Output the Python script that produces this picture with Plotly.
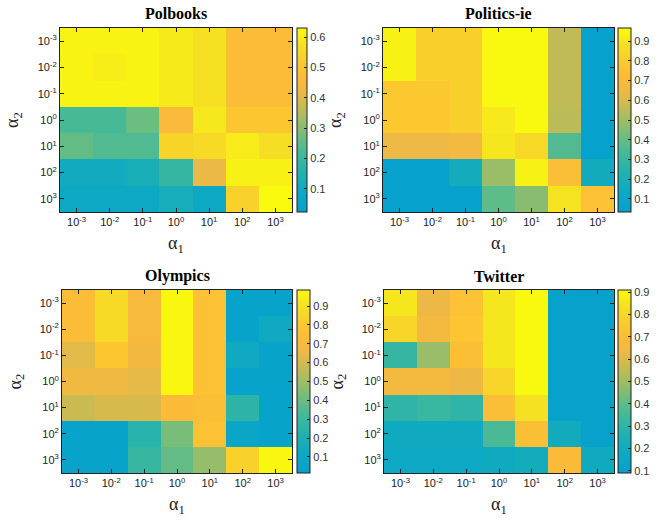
import plotly.graph_objects as go

# exponents of alpha_1 (columns) and alpha_2 (rows)
alpha1_exp = [-3, -2, -1, 0, 1, 2, 3]
alpha2_exp = [-3, -2, -1, 0, 1, 2, 3]
tick_labels = ["10<sup>-3</sup>", "10<sup>-2</sup>", "10<sup>-1</sup>", "10<sup>0</sup>",
               "10<sup>1</sup>", "10<sup>2</sup>", "10<sup>3</sup>"]

titles = ["Polbooks", "Politics-ie", "Olympics", "Twitter"]

# rows: alpha2 = 1e-3 ... 1e3 ; cols: alpha1 = 1e-3 ... 1e3
polbooks = [
    [0.615, 0.615, 0.615, 0.595, 0.575, 0.47, 0.47],
    [0.615, 0.605, 0.615, 0.595, 0.575, 0.47, 0.47],
    [0.615, 0.615, 0.615, 0.595, 0.575, 0.47, 0.47],
    [0.22, 0.22, 0.27, 0.455, 0.59, 0.51, 0.51],
    [0.26, 0.236, 0.236, 0.545, 0.56, 0.60, 0.57],
    [0.10, 0.10, 0.13, 0.19, 0.42, 0.61, 0.61],
    [0.085, 0.085, 0.085, 0.12, 0.085, 0.54, 0.63],
]
politics_ie = [
    [0.94, 0.82, 0.82, 0.96, 0.96, 0.56, 0.04],
    [0.94, 0.82, 0.82, 0.96, 0.96, 0.56, 0.04],
    [0.79, 0.79, 0.82, 0.96, 0.96, 0.56, 0.04],
    [0.79, 0.79, 0.82, 0.91, 0.96, 0.55, 0.04],
    [0.65, 0.65, 0.67, 0.90, 0.85, 0.36, 0.04],
    [0.04, 0.04, 0.17, 0.49, 0.94, 0.73, 0.16],
    [0.04, 0.04, 0.04, 0.38, 0.46, 0.89, 0.75],
]
olympics = [
    [0.73, 0.87, 0.70, 0.975, 0.76, 0.05, 0.05],
    [0.73, 0.87, 0.70, 0.975, 0.76, 0.05, 0.13],
    [0.63, 0.79, 0.675, 0.975, 0.76, 0.13, 0.05],
    [0.665, 0.665, 0.64, 0.975, 0.76, 0.05, 0.05],
    [0.58, 0.61, 0.61, 0.72, 0.74, 0.26, 0.05],
    [0.05, 0.05, 0.24, 0.43, 0.76, 0.08, 0.05],
    [0.05, 0.05, 0.29, 0.39, 0.48, 0.84, 0.975],
]
twitter = [
    [0.85, 0.63, 0.72, 0.85, 0.905, 0.10, 0.10],
    [0.795, 0.655, 0.74, 0.85, 0.905, 0.10, 0.10],
    [0.32, 0.49, 0.705, 0.85, 0.905, 0.10, 0.10],
    [0.655, 0.655, 0.63, 0.795, 0.905, 0.10, 0.10],
    [0.30, 0.325, 0.30, 0.70, 0.835, 0.10, 0.10],
    [0.19, 0.19, 0.19, 0.36, 0.705, 0.20, 0.10],
    [0.17, 0.17, 0.17, 0.19, 0.21, 0.68, 0.19],
]
datasets = [polbooks, politics_ie, olympics, twitter]
zranges = [(0.024, 0.63), (0.034, 0.966), (0.015, 0.985), (0.091, 0.909)]
cbar_ticks = [[0.1, 0.2, 0.3, 0.4, 0.5, 0.6],
              [0.1, 0.2, 0.3, 0.4, 0.5, 0.6, 0.7, 0.8, 0.9],
              [0.1, 0.2, 0.3, 0.4, 0.5, 0.6, 0.7, 0.8, 0.9],
              [0.1, 0.2, 0.3, 0.4, 0.5, 0.6, 0.7, 0.8, 0.9]]

colorscale = [
    [0.00, "rgb(6,160,205)"],
    [0.10, "rgb(12,168,196)"],
    [0.20, "rgb(30,176,178)"],
    [0.30, "rgb(60,184,158)"],
    [0.40, "rgb(105,189,130)"],
    [0.50, "rgb(160,189,100)"],
    [0.58, "rgb(200,187,82)"],
    [0.66, "rgb(238,185,68)"],
    [0.72, "rgb(251,186,58)"],
    [0.80, "rgb(252,198,48)"],
    [0.90, "rgb(245,222,36)"],
    [1.00, "rgb(249,250,14)"],
]

W, H = 658, 521
# pixel boxes of plot areas: (x0, x1, ytop, ybottom)
boxes = [(60, 292, 28, 212), (383, 614, 28, 212), (62, 292, 290, 473), (384, 614, 290, 473)]
cbars = [(297, 307), (618, 631), (297, 310), (618, 631)]

fig = go.Figure()
annotations = []
for i, (data, title) in enumerate(zip(datasets, titles)):
    x0, x1, yt, yb = boxes[i]
    cx0, cx1 = cbars[i]
    xa = "x" if i == 0 else f"x{i+1}"
    ya = "y" if i == 0 else f"y{i+1}"
    zmin, zmax = zranges[i]
    fig.add_trace(go.Heatmap(
        z=data, x=alpha1_exp, y=alpha2_exp, xaxis=xa, yaxis=ya,
        colorscale=colorscale, zmin=zmin, zmax=zmax,
        colorbar=dict(
            x=cx0 / W, xanchor="left", y=1 - yb / H, yanchor="bottom",
            len=(yb - yt) / H, lenmode="fraction",
            thickness=cx1 - cx0, thicknessmode="pixels",
            outlinewidth=1, outlinecolor="#222",
            ticks="inside", ticklen=3, tickcolor="#222",
            tickvals=cbar_ticks[i], ticktext=[f"{v:.1f}" for v in cbar_ticks[i]],
            tickfont=dict(family="Liberation Sans, Arial", size=11, color="#333"),
            xpad=0, ypad=0,
        ),
        hoverinfo="skip",
    ))
    axis_common = dict(
        showline=True, linecolor="#222", linewidth=1, mirror="ticks",
        ticks="inside", ticklen=4, tickcolor="#222",
        tickfont=dict(family="Liberation Sans, Arial", size=11, color="#222"),
        showgrid=False, zeroline=False,
        tickvals=alpha1_exp, ticktext=tick_labels,
    )
    fig.update_layout(**{
        ("xaxis" if i == 0 else f"xaxis{i+1}"): dict(
            axis_common, domain=[x0 / W, x1 / W], anchor=ya, range=[-3.5, 3.5]),
        ("yaxis" if i == 0 else f"yaxis{i+1}"): dict(
            axis_common, domain=[1 - yb / H, 1 - yt / H], anchor=xa,
            range=[3.5, -3.5]),
    })
    xc = (x0 + x1) / 2 / W
    annotations.append(dict(text=f"<b>{title}</b>", x=xc, y=1 - (yt - 14) / H,
                            xref="paper", yref="paper", showarrow=False,
                            xanchor="center", yanchor="middle",
                            font=dict(family="Liberation Serif, Times New Roman", size=16, color="#000")))
    annotations.append(dict(text="α<sub>1</sub>", x=xc, y=1 - (yb + 32) / H,
                            xref="paper", yref="paper", showarrow=False,
                            xanchor="center", yanchor="middle",
                            font=dict(family="Liberation Serif, Times New Roman", size=18, color="#222")))
    annotations.append(dict(text="α<sub>2</sub>", x=(x0 - 46) / W, y=1 - (yt + yb) / 2 / H,
                            xref="paper", yref="paper", showarrow=False, textangle=-90,
                            xanchor="center", yanchor="middle",
                            font=dict(family="Liberation Serif, Times New Roman", size=18, color="#222")))

fig.update_layout(width=W, height=H, margin=dict(l=0, r=0, t=0, b=0),
                  paper_bgcolor="white", plot_bgcolor="white",
                  annotations=annotations, showlegend=False)
fig.write_html("out.html", config={"displayModeBar": False},
               post_script="document.body.style.margin='0';")
